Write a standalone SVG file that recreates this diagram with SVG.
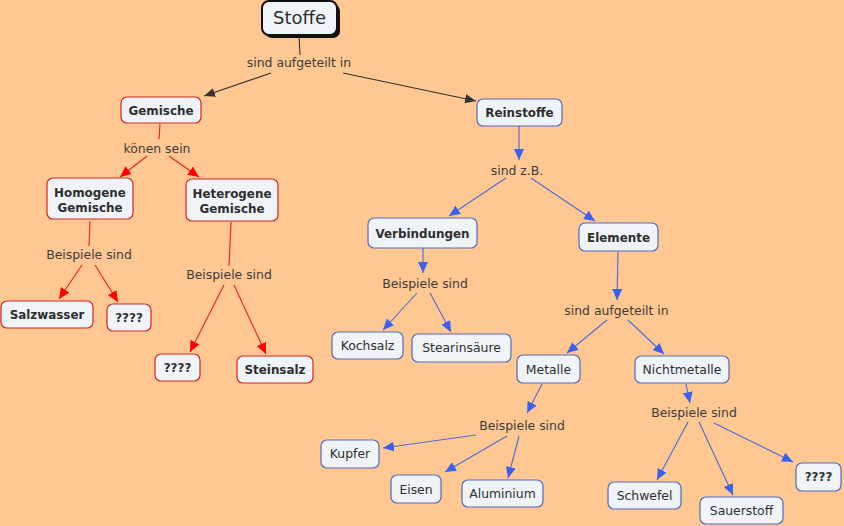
<svg xmlns="http://www.w3.org/2000/svg" width="844" height="526" viewBox="0 0 844 526">
<defs>
<style>
.bg{fill:#FFC791}
.n{fill:#EEF4F8;stroke-width:1.2}
.r{stroke:#D42424}
.b{stroke:#5668C4}
.t{font-family:"DejaVu Sans",Verdana,sans-serif;fill:#2e2e2e;text-anchor:middle}
.bold{font-weight:bold;font-size:11.9px}
.reg{font-size:12.4px}
.lab{font-family:"DejaVu Sans",Verdana,sans-serif;font-size:12.4px;fill:#3c3c3c;text-anchor:middle}
.cr{stroke:#EE1C1C;stroke-width:1.1;fill:none}
.cb{stroke:#4E6CDC;stroke-width:1.1;fill:none}
.cd{stroke:#333;stroke-width:1.1;fill:none}
</style>
<marker id="ad" markerUnits="userSpaceOnUse" markerWidth="11" markerHeight="9" refX="11" refY="4.5" orient="auto"><path d="M0,0L11,4.5L0,9z" fill="#333"/></marker>
<marker id="ar" markerUnits="userSpaceOnUse" markerWidth="11" markerHeight="10" refX="11" refY="5" orient="auto"><path d="M0,0L11,5L0,10z" fill="#F00"/></marker>
<marker id="ab" markerUnits="userSpaceOnUse" markerWidth="11" markerHeight="10" refX="11" refY="5" orient="auto"><path d="M0,0L11,5L0,10z" fill="#3A62F0"/></marker>
</defs>
<rect class="bg" x="0" y="0" width="844" height="526"/>

<g id="connectors">
<path class="cd" d="M299,35L300,55"/>
<path class="cd" d="M271,73L204,96" marker-end="url(#ad)"/>
<path class="cd" d="M343,73L476,101" marker-end="url(#ad)"/>
<path class="cr" d="M160,124L159,139"/>
<path class="cr" d="M147,156L120,177" marker-end="url(#ar)"/>
<path class="cr" d="M169,156L199,177" marker-end="url(#ar)"/>
<path class="cr" d="M90,221L89,246"/>
<path class="cr" d="M82,265L59,299" marker-end="url(#ar)"/>
<path class="cr" d="M95,265L118,302" marker-end="url(#ar)"/>
<path class="cr" d="M231,222L229,266"/>
<path class="cr" d="M224,285L190,352" marker-end="url(#ar)"/>
<path class="cr" d="M234,285L266,354" marker-end="url(#ar)"/>
<path class="cb" d="M519,126L519,160" marker-end="url(#ab)"/>
<path class="cb" d="M506,178L449,216" marker-end="url(#ab)"/>
<path class="cb" d="M531,178L595,221" marker-end="url(#ab)"/>
<path class="cb" d="M423,248L423,273" marker-end="url(#ab)"/>
<path class="cb" d="M417,293L383,330" marker-end="url(#ab)"/>
<path class="cb" d="M430,293L451,332" marker-end="url(#ab)"/>
<path class="cb" d="M618,252L617,300" marker-end="url(#ab)"/>
<path class="cb" d="M607,320L567,353" marker-end="url(#ab)"/>
<path class="cb" d="M628,320L664,354" marker-end="url(#ab)"/>
<path class="cb" d="M542,384L527,413" marker-end="url(#ab)"/>
<path class="cb" d="M476,435L383,448" marker-end="url(#ab)"/>
<path class="cb" d="M507,436L445,472" marker-end="url(#ab)"/>
<path class="cb" d="M519,436L508,478" marker-end="url(#ab)"/>
<path class="cb" d="M686,384L690,403" marker-end="url(#ab)"/>
<path class="cb" d="M688,422L657,480" marker-end="url(#ab)"/>
<path class="cb" d="M699,422L733,495" marker-end="url(#ab)"/>
<path class="cb" d="M714,423L793,462" marker-end="url(#ab)"/>
</g>

<g id="labels">
<text class="lab" x="299" y="67">sind aufgeteilt in</text>
<text class="lab" x="157" y="153">könen sein</text>
<text class="lab" x="89" y="259">Beispiele sind</text>
<text class="lab" x="229" y="279">Beispiele sind</text>
<text class="lab" x="517" y="175">sind z.B.</text>
<text class="lab" x="425" y="288">Beispiele sind</text>
<text class="lab" x="616.5" y="315">sind aufgeteilt in</text>
<text class="lab" x="522" y="430">Beispiele sind</text>
<text class="lab" x="694" y="417">Beispiele sind</text>
</g>

<g id="stoffe">
<rect x="265" y="4" width="75" height="34" rx="7" fill="#111"/>
<rect x="262" y="1" width="75" height="34" rx="7" fill="#EEF4F8" stroke="#111" stroke-width="2"/>
<text class="t" x="299.5" y="24" font-size="18px">Stoffe</text>
</g>
<g id="gemische"><rect class="n r" x="121" y="97" width="80" height="26" rx="6"/><text class="t bold" x="161" y="115">Gemische</text></g>
<g id="reinstoffe"><rect class="n b" x="477" y="99" width="85" height="27" rx="6"/><text class="t bold" x="519.5" y="117">Reinstoffe</text></g>
<g id="homogene"><rect class="n r" x="47" y="178" width="86" height="41" rx="6"/><text class="t bold" x="90" y="197">Homogene</text><text class="t bold" x="90" y="212">Gemische</text></g>
<g id="heterogene"><rect class="n r" x="186" y="179" width="92" height="42" rx="6"/><text class="t bold" x="232" y="198">Heterogene</text><text class="t bold" x="232" y="213">Gemische</text></g>
<g id="salzwasser"><rect class="n r" x="1" y="301" width="92" height="27" rx="6"/><text class="t bold" x="47" y="319">Salzwasser</text></g>
<g id="q1"><rect class="n r" x="107" y="304" width="44" height="27" rx="6"/><text class="t bold" x="129" y="322">????</text></g>
<g id="q2"><rect class="n r" x="155" y="354" width="45" height="27" rx="6"/><text class="t bold" x="177.5" y="372">????</text></g>
<g id="steinsalz"><rect class="n r" x="237" y="356" width="76" height="27" rx="6"/><text class="t bold" x="275" y="374">Steinsalz</text></g>
<g id="verbindungen"><rect class="n b" x="368" y="218" width="109" height="30" rx="6"/><text class="t bold" x="422.5" y="238">Verbindungen</text></g>
<g id="elemente"><rect class="n b" x="579" y="223" width="79" height="28" rx="6"/><text class="t bold" x="618.5" y="242">Elemente</text></g>
<g id="kochsalz"><rect class="n b" x="332" y="332" width="71" height="27" rx="6"/><text class="t reg" x="367.5" y="350">Kochsalz</text></g>
<g id="stearinsaeure"><rect class="n b" x="412" y="334" width="99" height="28" rx="6"/><text class="t reg" x="461.5" y="352">Stearinsäure</text></g>
<g id="metalle"><rect class="n b" x="517" y="355" width="63" height="28" rx="6"/><text class="t reg" x="548.5" y="374">Metalle</text></g>
<g id="nichtmetalle"><rect class="n b" x="635" y="356" width="94" height="27" rx="6"/><text class="t reg" x="682" y="374">Nichtmetalle</text></g>
<g id="kupfer"><rect class="n b" x="321" y="440" width="58" height="28" rx="6"/><text class="t reg" x="350" y="458">Kupfer</text></g>
<g id="eisen"><rect class="n b" x="391" y="475" width="50" height="28" rx="6"/><text class="t reg" x="416" y="494">Eisen</text></g>
<g id="aluminium"><rect class="n b" x="462" y="480" width="81" height="27" rx="6"/><text class="t reg" x="502.5" y="498">Aluminium</text></g>
<g id="schwefel"><rect class="n b" x="608" y="482" width="73" height="27" rx="6"/><text class="t reg" x="644.5" y="500">Schwefel</text></g>
<g id="sauerstoff"><rect class="n b" x="700" y="497" width="83" height="27" rx="6"/><text class="t reg" x="741.5" y="515">Sauerstoff</text></g>
<g id="q3"><rect class="n b" x="796" y="463" width="45" height="28" rx="6"/><text class="t bold" x="818.5" y="481">????</text></g>
</svg>
